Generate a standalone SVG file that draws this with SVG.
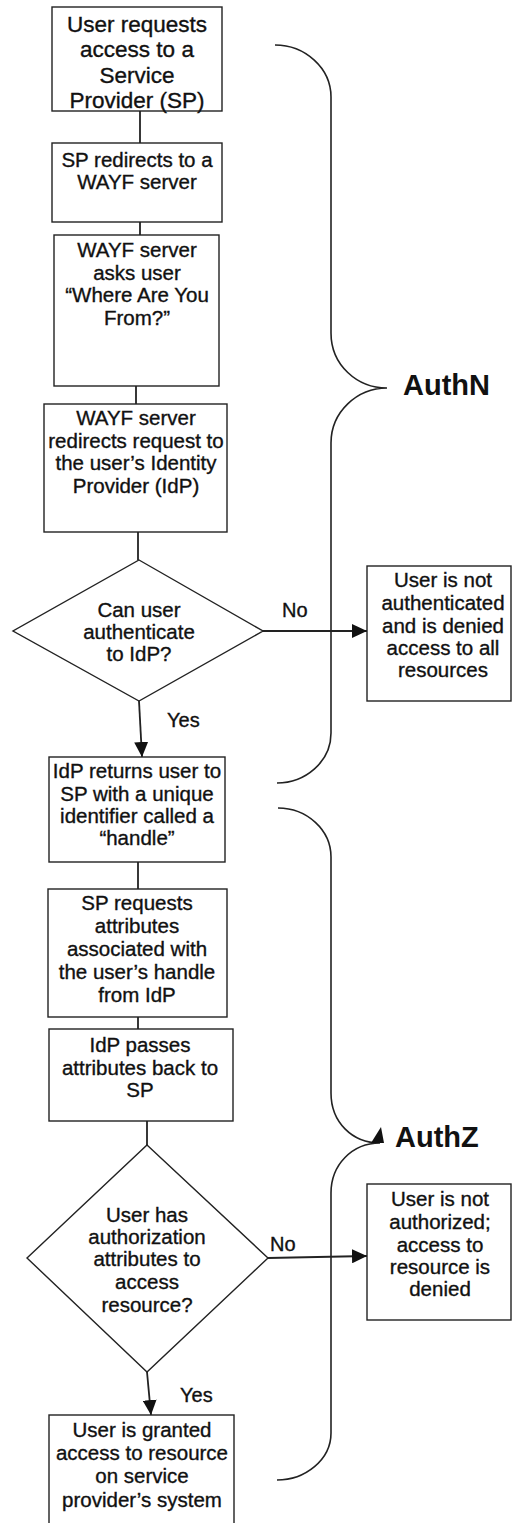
<svg xmlns="http://www.w3.org/2000/svg" width="512" height="1523" viewBox="0 0 512 1523">
<style>
.box{fill:#fff;stroke:#222;stroke-width:1.4}
.ln{fill:none;stroke:#222;stroke-width:1.8}
.br{fill:none;stroke:#222;stroke-width:1.6}
text{font-family:"Liberation Sans",Arial,sans-serif;font-size:20.5px;fill:#111;stroke:#111;stroke-width:0.35;text-anchor:middle}
.big{font-size:22.5px}
.lbl{font-size:20px;text-anchor:start}
.head{font-size:29px;font-weight:bold;text-anchor:start;stroke-width:0}
</style>
<defs>
<marker id="ah" markerUnits="userSpaceOnUse" markerWidth="15" markerHeight="14" refX="15" refY="7" orient="auto">
<path d="M0,0 L15,7 L0,14 z" fill="#111"/>
</marker>
</defs>
<rect width="512" height="1523" fill="#fff"/>
<g id="connectors">
<path class="ln" d="M140,111 V143"/>
<path class="ln" d="M140,222 V235"/>
<path class="ln" d="M136,386 V404"/>
<path class="ln" d="M138,532 V560"/>
<path class="ln" d="M139,701 L142,757" marker-end="url(#ah)"/>
<path class="ln" d="M263,631 H367" marker-end="url(#ah)"/>
<path class="ln" d="M138,862 V889"/>
<path class="ln" d="M138,1017 V1029"/>
<path class="ln" d="M147,1121 V1145"/>
<path class="ln" d="M147,1372 L151,1415" marker-end="url(#ah)"/>
<path class="ln" d="M268,1258 L367,1256" marker-end="url(#ah)"/>
<text class="lbl" x="167" y="727">Yes</text>
<text class="lbl" x="282" y="617">No</text>
<text class="lbl" x="180" y="1402">Yes</text>
<text class="lbl" x="270" y="1251">No</text>
</g>
<g id="n1"><rect class="box" x="52" y="7" width="170" height="104"/>
<text class="big" x="137" y="32">User requests</text><text class="big" x="137" y="57">access to a</text><text class="big" x="137" y="83">Service</text><text class="big" x="137" y="108">Provider (SP)</text></g>
<g id="n2"><rect class="box" x="52" y="143" width="170" height="79"/>
<text x="137" y="167">SP redirects to a</text><text x="137" y="189">WAYF server</text></g>
<g id="n3"><rect class="box" x="54" y="235" width="165" height="151"/>
<text x="137" y="257">WAYF server</text><text x="137" y="280">asks user</text><text x="137" y="302">“Where Are You</text><text x="137" y="325">From?”</text></g>
<g id="n4"><rect class="box" x="44" y="404" width="183" height="128"/>
<text x="136" y="425">WAYF server</text><text x="136" y="448">redirects request to</text><text x="136" y="470">the user’s Identity</text><text x="136" y="493">Provider (IdP)</text></g>
<g id="d1"><polygon class="box" points="139,560 263,631 139,701 13,631"/>
<text x="139" y="617">Can user</text><text x="139" y="639">authenticate</text><text x="139" y="661">to IdP?</text></g>
<g id="r1"><rect class="box" x="367" y="566" width="144" height="135"/>
<text x="443" y="587">User is not</text><text x="443" y="610">authenticated</text><text x="443" y="633">and is denied</text><text x="443" y="655">access to all</text><text x="443" y="677">resources</text></g>
<g id="n5"><rect class="box" x="49" y="757" width="176" height="105"/>
<text x="137" y="778">IdP returns user to</text><text x="137" y="801">SP with a unique</text><text x="137" y="823">identifier called a</text><text x="137" y="845">“handle”</text></g>
<g id="n6"><rect class="box" x="48" y="889" width="179" height="128"/>
<text x="137" y="910">SP requests</text><text x="137" y="933">attributes</text><text x="137" y="956">associated with</text><text x="137" y="979">the user’s handle</text><text x="137" y="1002">from IdP</text></g>
<g id="n7"><rect class="box" x="49" y="1029" width="184" height="92"/>
<text x="140" y="1052">IdP passes</text><text x="140" y="1075">attributes back to</text><text x="140" y="1097">SP</text></g>
<g id="d2"><polygon class="box" points="147,1145 268,1258 147,1372 27,1258"/>
<text x="147" y="1222">User has</text><text x="147" y="1244">authorization</text><text x="147" y="1266">attributes to</text><text x="147" y="1289">access</text><text x="147" y="1312">resource?</text></g>
<g id="r2"><rect class="box" x="367" y="1184" width="144" height="136"/>
<text x="440" y="1206">User is not</text><text x="440" y="1229">authorized;</text><text x="440" y="1252">access to</text><text x="440" y="1274">resource is</text><text x="440" y="1296">denied</text></g>
<g id="n8"><rect class="box" x="49" y="1415" width="185" height="112"/>
<text x="142" y="1437">User is granted</text><text x="142" y="1460">access to resource</text><text x="142" y="1483">on service</text><text x="142" y="1507">provider’s system</text></g>
<g id="authn">
<path class="br" d="M275,45 C305,45 331,68 331,97 L331,333 C331,365 357,388 387,388 C357,388 331,412 331,443 L331,733 C331,762 305,783 277,783"/>
<text class="head" x="403" y="395">AuthN</text></g>
<g id="authz">
<path class="br" d="M278,808 C307,808 331,830 331,857 L331,1093 C331,1122 352,1143 380,1143 C352,1143 331,1165 331,1193 L331,1433 C331,1460 305,1480 277,1480"/>
<polygon points="371,1143 384,1143 381,1127" fill="#111"/>
<text class="head" x="395" y="1147">AuthZ</text></g>
</svg>
